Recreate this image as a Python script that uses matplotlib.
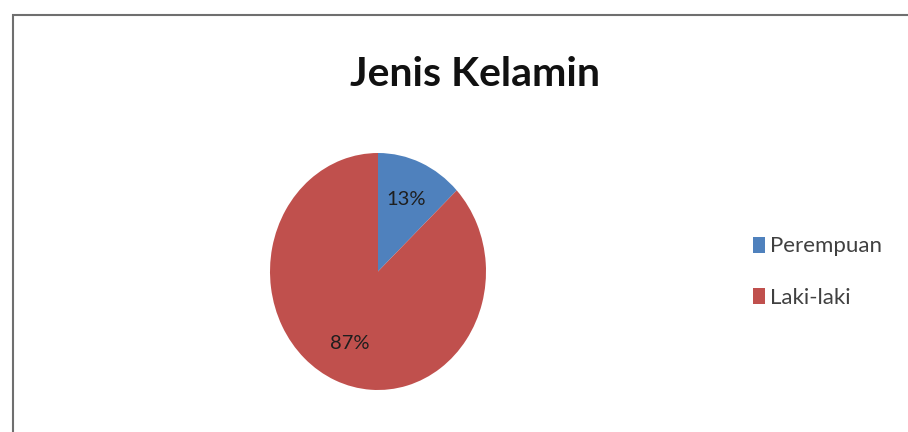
import matplotlib
matplotlib.use('Agg')
import matplotlib.pyplot as plt
from matplotlib.patches import Rectangle

# data
labels = ['Perempuan', 'Laki-laki']
shares = [13, 87]
colors = ['#4F81BD', '#C0504D']

FONT = 'Lato'
W, H = 908, 432

fig = plt.figure(figsize=(W / 100, H / 100), dpi=100)
fig.patch.set_facecolor('white')

# chart frame (runs off the right and bottom edges)
fig.patches.append(Rectangle((13 / W, -0.1), 1.2, (H - 15) / H + 0.1, transform=fig.transFigure,
                             fill=False, edgecolor='#6f6f6f', linewidth=1.5))

fig.text(475 / W, 1 - 75 / H, 'Jenis Kelamin', ha='center', va='center',
         fontsize=29.5, fontweight='bold', family=FONT, color='#111111')

# pie plot area, stretched a bit vertically
ax = fig.add_axes([270 / W, (H - 390) / H, 216 / W, 237 / H])
wedges, texts, autotexts = ax.pie(shares, colors=colors, startangle=90, counterclock=False,
                                  autopct='%d%%', pctdistance=0.66, radius=1,
                                  wedgeprops=dict(linewidth=0),
                                  textprops=dict(fontsize=14.5, family=FONT, color='#1e1e1e'))
ax.set_aspect('auto')
ax.set_xlim(-1, 1)
ax.set_ylim(-1, 1)
ax.axis('off')

leg = fig.legend(wedges, labels, loc='center left', bbox_to_anchor=(733 / W, 1 - 272 / H),
                 frameon=False, handlelength=0.55, handleheight=0.75, handletextpad=0.2,
                 labelspacing=1.4, prop=dict(family=FONT, size=16))
for t in leg.get_texts():
    t.set_color('#404040')

fig.savefig('out.png', dpi=100)
